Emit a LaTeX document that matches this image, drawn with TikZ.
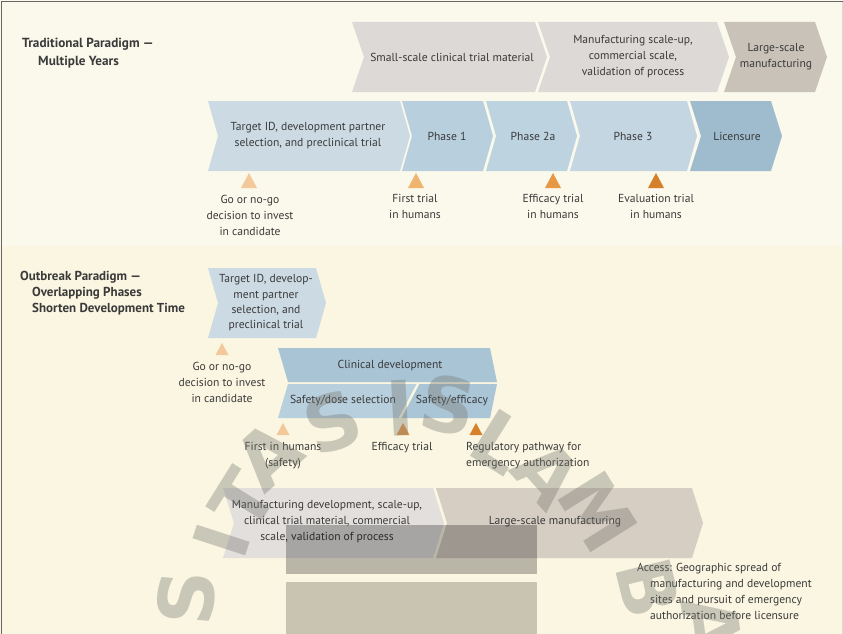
\documentclass[tikz,border=0pt]{standalone}
\usepackage{fontspec}
\setmainfont{PT Sans}
\newfontfamily\wmfont{DejaVu Sans}
\definecolor{bgtop}{HTML}{FBF9EC}
\definecolor{bgbot}{HTML}{FAF6E2}
\definecolor{txtcol}{HTML}{3A3A3A}
\definecolor{gchev}{HTML}{DCD9D6}
\definecolor{gdark}{HTML}{C9C2B8}
\definecolor{bTarget}{HTML}{CCDAE3}
\definecolor{bPhA}{HTML}{B8CFDD}
\definecolor{bPhB}{HTML}{BDD3E0}
\definecolor{bPhC}{HTML}{C3D6E2}
\definecolor{bLic}{HTML}{9EBCCD}
\definecolor{bClin}{HTML}{A9C4D5}
\definecolor{bDose}{HTML}{B8CFDD}
\definecolor{bEff}{HTML}{AAC5D6}
\definecolor{mDev}{HTML}{E2DFDD}
\definecolor{mLarge}{HTML}{D6CDC3}
\definecolor{triA}{HTML}{F3C89A}
\definecolor{triB}{HTML}{EFB46E}
\definecolor{triC}{HTML}{E79845}
\definecolor{triD}{HTML}{D6802A}
\definecolor{redact}{HTML}{C8C4B1}
\definecolor{wmark}{HTML}{74746C}
\newcommand{\chevron}[6]{\fill[#6] (#1,#3) -- (#2,#3) -- ({#2+#5},{(#3+#4)/2}) -- (#2,#4) -- (#1,#4) -- ({#1+#5},{(#3+#4)/2}) -- cycle;}
\newcommand{\tri}[5]{\fill[#5] ({#1-#3/2},#2) -- (#1,{#2-#4}) -- ({#1+#3/2},#2) -- cycle;}
\begin{document}
\begin{tikzpicture}[x=1pt,y=-1pt,
  txt/.style={font=\fontsize{11.6}{16}\selectfont, text=txtcol, align=center, inner sep=0pt},
  ttl/.style={font=\bfseries\fontsize{13.2}{17.5}\selectfont, text=txtcol, align=left, anchor=north west, inner sep=0pt},
  wm/.style={font=\wmfont\bfseries\fontsize{76}{76}\selectfont, text=wmark, opacity=0.36, inner sep=0pt}]
\useasboundingbox (0,0) rectangle (843,634);
% backgrounds
\fill[bgtop] (0,0) rectangle (843,246);
\fill[bgbot] (0,246) rectangle (843,634);
\draw[line width=1.5pt, black!60] (1.5,634) -- (1.5,1.5) -- (843,1.5);
\draw[line width=0.8pt, black!15] (842,2) -- (842,634);

% ---------- Traditional paradigm ----------
\node[ttl] (tradtitle) at (22,38) {Traditional Paradigm —\\\hspace*{16pt}Multiple Years};

\chevron{352}{535}{22}{92}{12}{gchev}
\chevron{538}{717}{22}{92}{12}{gchev}
\chevron{724}{815}{22}{92}{12}{gdark}
\node[txt] (smallscale) at (452,57) {Small-scale clinical trial material};
\node[txt] (mfgscale) at (633,57) {Manufacturing scale-up,\\commercial scale,\\validation of process};
\node[txt] (largescale) at (776,57) {Large-scale\\manufacturing};

\chevron{208}{400}{101}{171}{10}{bTarget}
\chevron{402}{483}{101}{171}{10}{bPhA}
\chevron{486}{567}{101}{171}{10}{bPhB}
\chevron{570}{687}{101}{171}{10}{bPhC}
\chevron{690}{771}{101}{171}{11}{bLic}
\node[txt] (target) at (308,136) {Target ID, development partner\\selection, and preclinical trial};
\node[txt] (ph1) at (447,136) {Phase 1};
\node[txt] (ph2) at (533,136) {Phase 2a};
\node[txt] (ph3) at (633,136) {Phase 3};
\node[txt] (lic) at (737,136) {Licensure};

\tri{249}{188}{16}{15}{triA}
\tri{416}{188}{16}{15}{triB}
\tri{553}{188}{16}{15}{triC}
\tri{656}{188}{16}{15}{triD}
\node[txt] (gonogo) at (250,215) {Go or no-go\\decision to invest\\in candidate};
\node[txt] (firsttrial) at (415,206.5) {First trial\\in humans};
\node[txt] (efftrial) at (553,206.5) {Efficacy trial\\in humans};
\node[txt] (evaltrial) at (656,206.5) {Evaluation trial\\in humans};

% ---------- Outbreak paradigm ----------
\node[ttl, font=\bfseries\fontsize{13}{16.2}\selectfont] (outtitle) at (20,271) {Outbreak Paradigm —\\\hspace*{12pt}Overlapping Phases\\\hspace*{12pt}Shorten Development Time};

\chevron{208}{316}{268}{338}{10}{bTarget}
\node[txt, font=\fontsize{11.6}{15.3}\selectfont] (target2) at (266,303) {Target ID, develop-\\ment partner\\selection, and\\preclinical trial};
\tri{222}{355}{13}{12}{triA}
\node[txt] (gonogo2) at (222,382.5) {Go or no-go\\decision to invest\\in candidate};

% clinical development block
\fill[bClin] (278,348) -- (490,348) -- (497,382) -- (288,382) -- cycle;
\fill[bDose] (288,384) -- (416.5,384) -- (398.5,418) -- (278,418) -- cycle;
\fill[bEff] (419.5,384) -- (497,384) -- (490,418) -- (401.5,418) -- cycle;
\node[txt] (clin) at (390,366) {Clinical development};
\node[txt] (dose) at (343,401) {Safety/dose selection};
\node[txt] (safeff) at (452,401) {Safety/efficacy};

\tri{283}{435}{13}{12}{triA}
\tri{403}{435}{13}{12}{triC}
\tri{476}{435}{13}{12}{triD}
\node[txt] (fih) at (283,456) {First in humans\\(safety)};
\node[txt] (eff2) at (402,448) {Efficacy trial};
\node[txt, align=left, anchor=west] (reg) at (466,456) {Regulatory pathway for\\emergency authorization};

% manufacturing
\chevron{223}{433}{488}{558}{11}{mDev}
\chevron{436}{692}{488}{558}{11}{mLarge}
\node[txt] (mfgdev) at (327,522) {Manufacturing development, scale-up,\\clinical trial material, commercial\\scale, validation of process};
\node[txt] (large2) at (555,522) {Large-scale manufacturing};

% redaction blocks
\fill[black, opacity=0.26] (286,525) rectangle (537,574);
\fill[redact] (286,582) rectangle (537,634);

\node[txt, align=left, anchor=north west] (access) at (637,563) {Access: Geographic spread of\\\hspace*{13pt}manufacturing and development\\\hspace*{13pt}sites and pursuit of emergency\\\hspace*{13pt}authorization before licensure};

% watermark
\node[wm, rotate=85] (w1) at (186,598) {S};
\node[wm, rotate=72] (w2) at (222,540) {I};
\node[wm, rotate=58] (w3) at (243,500) {T};
\node[wm, rotate=42] (w4) at (268,455) {A};
\node[wm, rotate=20] (w5) at (333,422) {S};
\node[wm, rotate=3] (w6) at (400,408) {I};
\node[wm, rotate=-10] (w7) at (448,405) {S};
\node[wm, rotate=-32] (w8) at (500,442) {L};
\node[wm, rotate=-48] (w9) at (548,474) {A};
\node[wm, rotate=-58] (w10) at (598,512) {M};
\node[wm, rotate=-76] (w11) at (648,588) {B};
\node[wm, rotate=-82] (w12) at (712,626) {A};
\end{tikzpicture}
\end{document}
